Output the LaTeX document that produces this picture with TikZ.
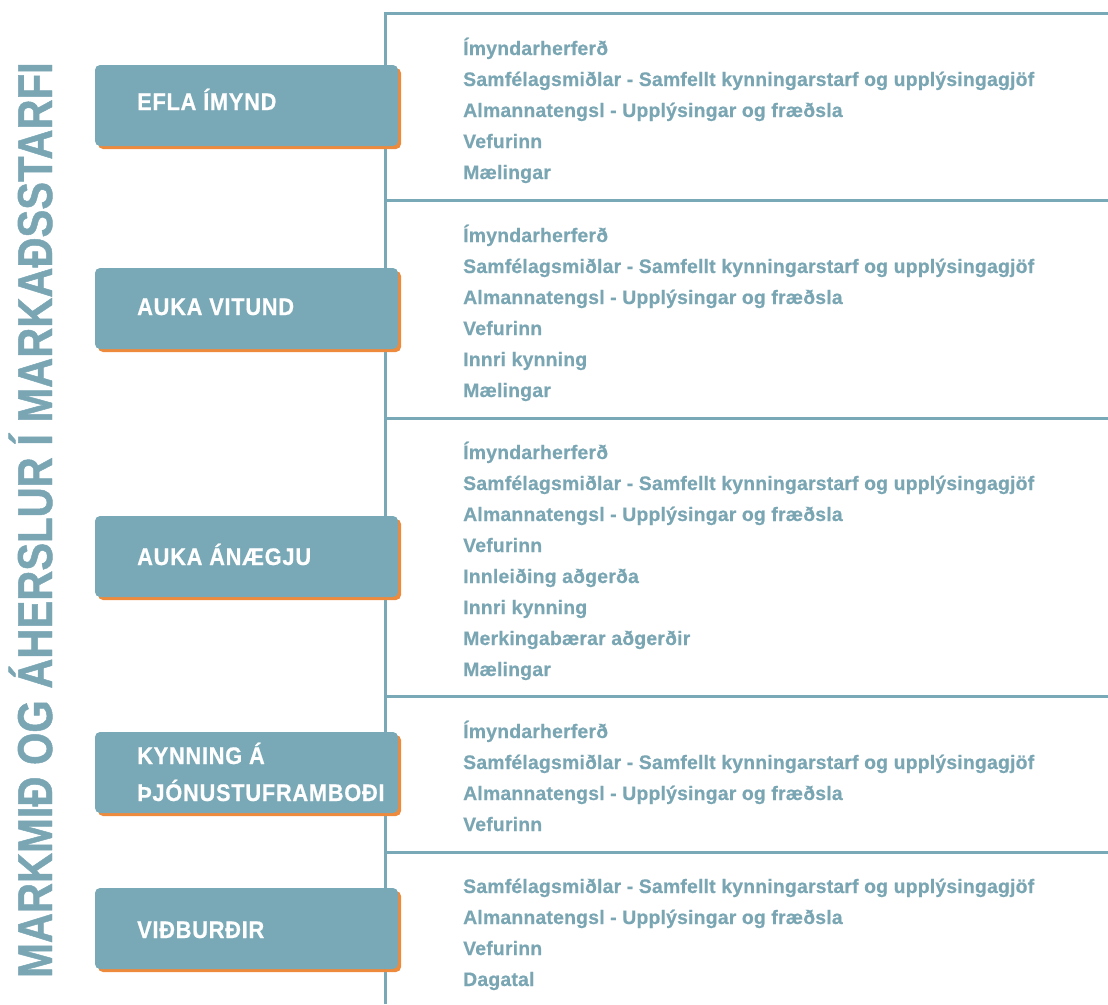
\documentclass[tikz,border=0pt]{standalone}
\usepackage{fontspec}
\setmainfont{Liberation Sans}
\newfontfamily\condfont[FakeStretch=0.995,LetterSpace=1,FakeBold=0.6]{Liberation Sans Bold}
\newfontfamily\boxfont[FakeStretch=0.91,LetterSpace=3,FakeBold=0.6]{Liberation Sans Bold}
\newfontfamily\titlefont[FakeStretch=0.85,FakeBold=1]{Liberation Sans Bold}
\definecolor{teal}{HTML}{79A9B6}
\definecolor{tealtext}{HTML}{7AA6B4}
\definecolor{shadoworange}{HTML}{EE8A3C}
\tikzset{
  frameline/.style={draw=teal, line width=3pt},
  goalbox/.style={fill=teal, rounded corners=5pt},
  goalshadow/.style={fill=shadoworange, rounded corners=5pt},
  goaltext/.style={anchor=base west, text=white, font=\boxfont\fontsize{24}{27}\selectfont, align=left, inner sep=0pt},
  item/.style={anchor=base west, text=tealtext, font=\condfont\fontsize{19.5}{22}\selectfont, inner sep=0pt},
  titletext/.style={anchor=base west, rotate=90, text=tealtext, font=\titlefont\fontsize{49}{50}\selectfont, inner sep=0pt}
}
\begin{document}
\begin{tikzpicture}[x=1pt,y=-1pt]
\useasboundingbox (0,0) rectangle (1108,1004);
% frame
\coordinate (vtop) at (385,13);
\coordinate (vbot) at (385,1004);
\coordinate (h0) at (1108,13);
\coordinate (h1a) at (385,200); \coordinate (h1b) at (1108,200);
\coordinate (h2a) at (385,418); \coordinate (h2b) at (1108,418);
\coordinate (h3a) at (385,696); \coordinate (h3b) at (1108,696);
\coordinate (h4a) at (385,852); \coordinate (h4b) at (1108,852);
\draw[frameline] (vbot) -- (vtop) -- (h0);
\draw[frameline] (h1a) -- (h1b);
\draw[frameline] (h2a) -- (h2b);
\draw[frameline] (h3a) -- (h3b);
\draw[frameline] (h4a) -- (h4b);
% title
\node[titletext] (title) at (52,978) {MARKMIÐ OG ÁHERSLUR Í MARKAÐSSTARFI};
% boxes
\foreach \name/\top in {b1/65, b2/268, b3/516, b4/732, b5/888}{
  \fill[goalshadow] (98,\top+3) rectangle (401,\top+84);
  \fill[goalbox] (95,\top) rectangle (398,\top+81);
  \coordinate (\name) at (137,\top);
}
\node[goaltext] (t1) at (137,110) {EFLA ÍMYND};
\node[goaltext] (t2) at (137,315) {AUKA VITUND};
\node[goaltext] (t3) at (137,565) {AUKA ÁNÆGJU};
\node[goaltext] (t4a) at (137,764) {KYNNING Á};
\node[goaltext] (t4b) at (137,801) {ÞJÓNUSTUFRAMBOÐI};
\node[goaltext] (t5) at (137,938) {VIÐBURÐIR};
% items
\node[item] (a1) at (463,55) {Ímyndarherferð};
\node[item] (a2) at (463,86) {Samfélagsmiðlar - Samfellt kynningarstarf og upplýsingagjöf};
\node[item] (a3) at (463,117) {Almannatengsl - Upplýsingar og fræðsla};
\node[item] (a4) at (463,148) {Vefurinn};
\node[item] (a5) at (463,179) {Mælingar};
\node[item] (c1) at (463,242) {Ímyndarherferð};
\node[item] (c2) at (463,273) {Samfélagsmiðlar - Samfellt kynningarstarf og upplýsingagjöf};
\node[item] (c3) at (463,304) {Almannatengsl - Upplýsingar og fræðsla};
\node[item] (c4) at (463,335) {Vefurinn};
\node[item] (c5) at (463,366) {Innri kynning};
\node[item] (c6) at (463,397) {Mælingar};
\node[item] (d1) at (463,459) {Ímyndarherferð};
\node[item] (d2) at (463,490) {Samfélagsmiðlar - Samfellt kynningarstarf og upplýsingagjöf};
\node[item] (d3) at (463,521) {Almannatengsl - Upplýsingar og fræðsla};
\node[item] (d4) at (463,552) {Vefurinn};
\node[item] (d5) at (463,583) {Innleiðing aðgerða};
\node[item] (d6) at (463,614) {Innri kynning};
\node[item] (d7) at (463,645) {Merkingabærar aðgerðir};
\node[item] (d8) at (463,676) {Mælingar};
\node[item] (e1) at (463,738) {Ímyndarherferð};
\node[item] (e2) at (463,769) {Samfélagsmiðlar - Samfellt kynningarstarf og upplýsingagjöf};
\node[item] (e3) at (463,800) {Almannatengsl - Upplýsingar og fræðsla};
\node[item] (e4) at (463,831) {Vefurinn};
\node[item] (f1) at (463,893) {Samfélagsmiðlar - Samfellt kynningarstarf og upplýsingagjöf};
\node[item] (f2) at (463,924) {Almannatengsl - Upplýsingar og fræðsla};
\node[item] (f3) at (463,955) {Vefurinn};
\node[item] (f4) at (463,986) {Dagatal};
\end{tikzpicture}
\end{document}
